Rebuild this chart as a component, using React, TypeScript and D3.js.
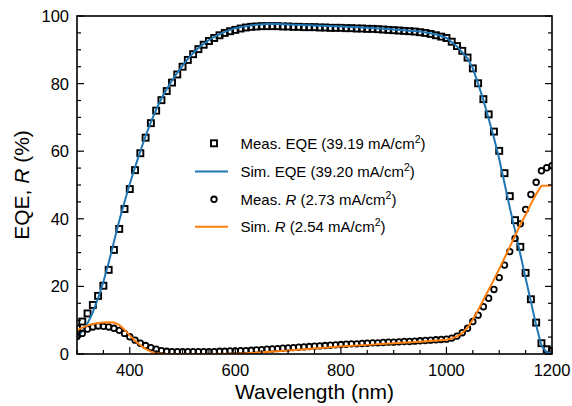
import React from "react";
import * as d3 from "d3";

const measEqeWl = d3.range(300, 1201, 10);
const measEqe = [
  7.5, 9.6, 12.0, 14.5, 17.2, 20.2, 24.9, 30.8, 37.0, 42.9,
  48.8, 54.4, 59.4, 64.0, 68.3, 72.0, 75.1, 77.8, 80.3, 82.7,
  85.0, 87.0, 88.7, 90.2, 91.5, 92.6, 93.5, 94.3, 95.0, 95.5,
  95.9, 96.3, 96.6, 96.8, 96.9, 97.0, 97.0, 97.0, 97.0, 96.9,
  96.9, 96.8, 96.8, 96.7, 96.7, 96.7, 96.6, 96.6, 96.5, 96.5,
  96.5, 96.4, 96.4, 96.3, 96.3, 96.2, 96.2, 96.1, 96.0, 95.9,
  95.8, 95.7, 95.6, 95.5, 95.4, 95.2, 95.0, 94.7, 94.3, 93.9,
  93.5, 92.4, 91.1, 89.7, 87.7, 84.5, 80.1, 75.4, 70.9, 65.8,
  60.1, 53.5, 46.7, 39.6, 31.7, 24.0, 16.2, 9.3, 3.2, 1.4,
  0.9,
];

const simEqeWl = [
  300, 310, 320, 330, 340, 350, 360, 370, 380, 390, 400, 410, 420, 430, 440, 450,
  460, 470, 480, 490, 500, 510, 520, 530, 540, 550, 560, 570, 580, 590, 600, 620,
  640, 660, 680, 700, 750, 800, 850, 900, 950, 980, 1000, 1020, 1040, 1050, 1060,
  1070, 1080, 1090, 1100, 1110, 1120, 1130, 1140, 1150, 1160, 1170, 1180, 1190, 1200,
];
const simEqe = [
  5.0, 6.8, 9.1, 12.3, 16.5, 21.4, 27.0, 33.2, 39.4, 45.0, 50.3, 55.3, 60.0, 64.5, 68.6, 72.3,
  75.6, 78.4, 80.9, 83.2, 85.3, 87.3, 89.0, 90.5, 91.8, 92.9, 93.8, 94.6, 95.3, 95.9, 96.4, 97.0,
  97.4, 97.6, 97.6, 97.5, 97.2, 96.9, 96.5, 96.0, 95.4, 94.6, 93.5, 91.0, 87.5, 84.5, 80.0,
  75.1, 69.6, 64.0, 57.7, 50.5, 43.3, 36.5, 29.5, 22.5, 15.5, 8.5, 2.5, 0.5, 0.2,
];

const measRWl = d3.range(300, 1201, 10);
const measR = [
  5.2, 6.1, 7.4, 8.0, 8.3, 8.2, 8.0, 7.6, 7.0, 6.1,
  5.1, 4.1, 3.2, 2.5, 1.9, 1.4, 1.0, 0.8, 0.7, 0.7,
  0.7, 0.7, 0.7, 0.7, 0.7, 0.7, 0.7, 0.8, 0.8, 0.9,
  0.9, 1.0, 1.0, 1.1, 1.2, 1.3, 1.4, 1.5, 1.6, 1.7,
  1.8, 1.9, 2.0, 2.1, 2.2, 2.3, 2.4, 2.5, 2.6, 2.7,
  2.8, 2.9, 3.0, 3.0, 3.1, 3.2, 3.3, 3.3, 3.4, 3.5,
  3.5, 3.6, 3.7, 3.7, 3.8, 3.9, 4.0, 4.1, 4.2, 4.3,
  4.4, 4.7, 5.3, 6.3, 7.6, 9.6, 11.5, 14.0, 16.5, 19.1,
  22.6, 26.3, 30.3, 34.2, 38.5, 42.8, 47.2, 50.8, 54.2, 55.1,
  55.7,
];

const simRWl = [
  300, 310, 320, 330, 340, 350, 360, 370, 380, 390, 400, 410, 420, 430, 440, 450,
  460, 470, 500, 550, 600, 620, 650, 700, 750, 800, 850, 900, 950, 1000, 1010, 1020,
  1030, 1040, 1050, 1060, 1070, 1080, 1090, 1100, 1110, 1120, 1130, 1140, 1150, 1160,
  1170, 1180, 1190, 1200,
];
const simR = [
  7.1, 7.8, 8.4, 8.9, 9.2, 9.3, 9.4, 9.3, 8.6, 7.2, 5.5, 3.9, 2.6, 1.5, 0.7, 0.2,
  0.1, 0.0, 0.0, 0.0, 0.1, 0.2, 0.5, 1.0, 1.6, 2.2, 2.7, 3.2, 3.6, 4.2, 4.6, 5.2,
  6.2, 7.8, 10.2, 13.0, 16.0, 19.0, 22.0, 25.2, 28.4, 31.7, 35.0, 38.3, 41.2, 44.4,
  47.3, 49.8, 49.8, 49.9,
];

const xTicksMajor = [400, 600, 800, 1000, 1200];
const yTicksMajor = [0, 20, 40, 60, 80, 100];

const legendLabels = [
  { pre: "Meas. EQE (39.19 mA/cm", italic: "", post: ")" },
  { pre: "Sim. EQE (39.20 mA/cm", italic: "", post: ")" },
  { pre: "Meas. ", italic: "R", post: " (2.73 mA/cm" },
  { pre: "Sim. ", italic: "R", post: " (2.54 mA/cm" },
];

const W = 572;
const H = 406;
const M = { left: 77, right: 552, top: 16, bottom: 354 };
const FONT = "'Liberation Sans', Arial, Helvetica, sans-serif";
const BLUE = "#1f77b4";
const ORANGE = "#ff7f0e";

export default function App() {
  const x = d3.scaleLinear().domain([300, 1200]).range([M.left, M.right]);
  const y = d3.scaleLinear().domain([0, 100]).range([M.bottom, M.top]);

  const simEqePts: [number, number][] = simEqeWl.map((w, i) => [w, simEqe[i]]);
  const simRPts: [number, number][] = simRWl.map((w, i) => [w, simR[i]]);
  const line = d3
    .line<[number, number]>()
    .x((d) => x(d[0]))
    .y((d) => y(d[1]));

  const xMinor = d3.range(300, 1201, 50);
  const yMinor = d3.range(0, 101, 5);
  const sq = 6;
  const sqW = 1.9;
  const cr = 2.8;
  const cW = 1.8;
  const rowY = [143.3, 171.5, 199.3, 226.7];

  const renderLabel = (i: number) => {
    const l = legendLabels[i];
    const sup = (
      <tspan baselineShift="super" fontSize={10.5}>
        2
      </tspan>
    );
    if (i < 2) {
      return (
        <>
          {l.pre}
          {sup}
          <tspan>{l.post}</tspan>
        </>
      );
    }
    return (
      <>
        {l.pre}
        <tspan fontStyle="italic">{l.italic}</tspan>
        {l.post}
        {sup}
        <tspan>)</tspan>
      </>
    );
  };

  return (
    <svg
      width={W}
      height={H}
      style={{ position: "absolute", left: 0, top: 0, background: "#fff" }}
      fontFamily={FONT}
    >
      <defs>
        <clipPath id="plotclip">
          <rect x={M.left} y={M.top} width={M.right - M.left} height={M.bottom - M.top} />
        </clipPath>
      </defs>
      <g clipPath="url(#plotclip)">
        {measEqeWl.map((w, i) => (
          <rect
            key={"s" + i}
            x={x(w) - sq / 2}
            y={y(measEqe[i]) - sq / 2}
            width={sq}
            height={sq}
            fill="none"
            stroke="#000"
            strokeWidth={sqW}
          />
        ))}
        <path d={line(simEqePts) || ""} fill="none" stroke={BLUE} strokeWidth={2} />
        {measRWl.map((w, i) => (
          <circle
            key={"c" + i}
            cx={x(w)}
            cy={y(measR[i])}
            r={cr}
            fill="none"
            stroke="#000"
            strokeWidth={cW}
          />
        ))}
        <path d={line(simRPts) || ""} fill="none" stroke={ORANGE} strokeWidth={2} />
      </g>

      {xMinor.map((t) => {
        const major = xTicksMajor.includes(t);
        return (
          <line
            key={"xt" + t}
            x1={x(t)}
            x2={x(t)}
            y1={M.bottom}
            y2={M.bottom - (major ? 7 : 4)}
            stroke="#000"
            strokeWidth={1.2}
          />
        );
      })}
      {yMinor.map((t) => {
        const major = yTicksMajor.includes(t);
        const len = major ? 7 : 4;
        return (
          <g key={"yt" + t}>
            <line x1={M.left} x2={M.left + len} y1={y(t)} y2={y(t)} stroke="#000" strokeWidth={1.2} />
            <line x1={M.right} x2={M.right - len} y1={y(t)} y2={y(t)} stroke="#000" strokeWidth={1.2} />
          </g>
        );
      })}
      <rect
        x={M.left}
        y={M.top}
        width={M.right - M.left}
        height={M.bottom - M.top}
        fill="none"
        stroke="#000"
        strokeWidth={1.6}
      />

      {xTicksMajor.map((t) => (
        <text key={"xl" + t} x={x(t)} y={375.5} textAnchor="middle" fontSize={16.5} fill="#000">
          {t}
        </text>
      ))}
      {yTicksMajor.map((t) => (
        <text key={"yl" + t} x={69} y={y(t) + 6} textAnchor="end" fontSize={16.5} fill="#000">
          {t}
        </text>
      ))}

      <text x={(M.left + M.right) / 2} y={399} textAnchor="middle" fontSize={21} fill="#000">
        Wavelength (nm)
      </text>
      <text
        transform={`translate(29, ${(M.top + M.bottom) / 2}) rotate(-90)`}
        textAnchor="middle"
        fontSize={21}
        fill="#000"
      >
        EQE, <tspan fontStyle="italic">R</tspan> (%)
      </text>

      <rect x={214 - sq / 2} y={rowY[0] - sq / 2} width={sq} height={sq} fill="none" stroke="#000" strokeWidth={sqW} />
      <line x1={195} x2={228} y1={rowY[1]} y2={rowY[1]} stroke={BLUE} strokeWidth={2} />
      <circle cx={214} cy={rowY[2]} r={cr} fill="none" stroke="#000" strokeWidth={cW} />
      <line x1={195} x2={228} y1={rowY[3]} y2={rowY[3]} stroke={ORANGE} strokeWidth={2} />
      {rowY.map((ry, i) => (
        <text key={"lg" + i} x={240.5} y={ry + 5.3} fontSize={15} fill="#000">
          {renderLabel(i)}
        </text>
      ))}
    </svg>
  );
}
